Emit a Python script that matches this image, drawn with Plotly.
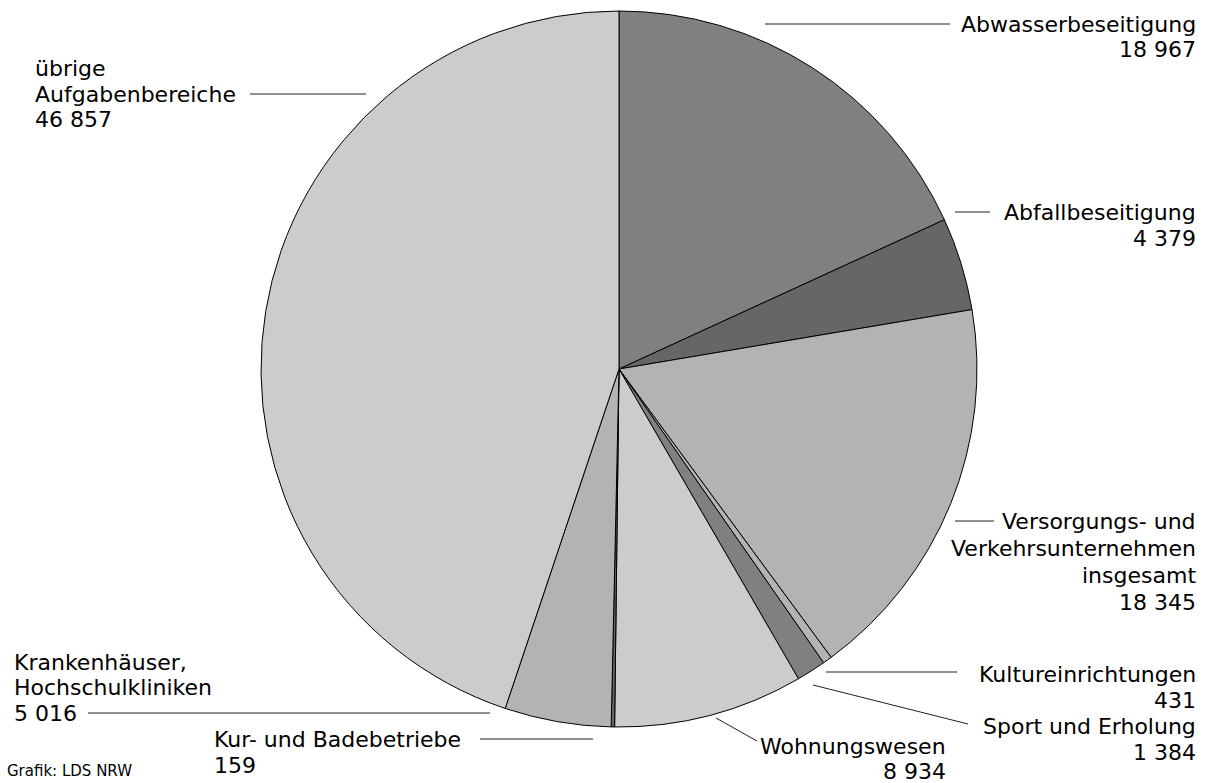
import plotly.graph_objects as go

W, H = 1211, 783

categories = [
    "Abwasserbeseitigung",
    "Abfallbeseitigung",
    "Versorgungs- und Verkehrsunternehmen insgesamt",
    "Kultureinrichtungen",
    "Sport und Erholung",
    "Wohnungswesen",
    "Kur- und Badebetriebe",
    "Krankenhäuser, Hochschulkliniken",
    "übrige Aufgabenbereiche",
]
values = [18967, 4379, 18345, 431, 1384, 8934, 159, 5016, 46857]
value_labels = ["18 967", "4 379", "18 345", "431", "1 384", "8 934", "159", "5 016", "46 857"]
colors = ["#808080", "#666666", "#b3b3b3", "#b3b3b3", "#808080",
          "#cccccc", "#666666", "#b3b3b3", "#cccccc"]

name_lines = [
    ["Abwasserbeseitigung"],
    ["Abfallbeseitigung"],
    ["Versorgungs- und", "Verkehrsunternehmen", "insgesamt"],
    ["Kultureinrichtungen"],
    ["Sport und Erholung"],
    ["Wohnungswesen"],
    ["Kur- und Badebetriebe"],
    ["Krankenhäuser,", "Hochschulkliniken"],
    ["übrige", "Aufgabenbereiche"],
]

# pie placement in pixels
cx, cy, r = 619, 369, 358

def px(x):
    return x / W

def py(y):
    return 1 - y / H

fig = go.Figure(go.Pie(
    labels=categories,
    values=values,
    sort=False,
    direction="clockwise",
    rotation=0,
    marker=dict(colors=colors, line=dict(color="#000000", width=1)),
    textinfo="none",
    hoverinfo="label+value",
    showlegend=False,
    domain=dict(x=[px(cx - r), px(cx + r)], y=[py(cy + r), py(cy - r)]),
))

FONT = "DejaVu Sans"
FS = 22

# label layout: x px, y px of first line centre, line spacing, anchor
label_pos = [
    (1198, 24, 26, "right"),
    (1198, 212, 26, "right"),
    (1198, 521, 27, "right"),
    (1198, 674, 26, "right"),
    (1198, 726, 26, "right"),
    (948, 746, 25, "right"),
    (212, 739, 26, "left"),
    (12, 662, 25.5, "left"),
    (33, 68, 26, "left"),
]

annotations = []
for i, (x, y0, dy, anchor) in enumerate(label_pos):
    lines = name_lines[i] + [value_labels[i]]
    for k, line in enumerate(lines):
        annotations.append(dict(
            text=line, x=px(x), y=py(y0 + k * dy), xref="paper", yref="paper",
            xanchor=anchor, yanchor="middle", align=anchor, showarrow=False,
            font=dict(family=FONT, size=FS, color="#000000"),
        ))
annotations.append(dict(
    text="Grafik: LDS NRW", x=px(5), y=py(771), xref="paper", yref="paper",
    xanchor="left", yanchor="middle", showarrow=False,
    font=dict(family=FONT, size=15, color="#000000"),
))

# leader lines (pixel coordinates)
leaders = [
    (765, 24, 950, 24),
    (955, 212, 990, 212),
    (955, 521, 994, 521),
    (826, 672, 957, 672),
    (813, 685, 968, 724),
    (716, 718, 757, 741),
    (480, 739, 593, 739),
    (88, 713, 490, 713),
    (250, 94, 366, 94),
]
shapes = []
for x0, y0, x1, y1 in leaders:
    shapes.append(dict(type="line", xref="paper", yref="paper",
                       x0=px(x0), y0=py(y0), x1=px(x1), y1=py(y1),
                       line=dict(color="#222222", width=1)))

fig.update_layout(
    width=W, height=H,
    margin=dict(l=0, r=0, t=0, b=0),
    paper_bgcolor="#ffffff",
    plot_bgcolor="#ffffff",
    annotations=annotations,
    shapes=shapes,
    font=dict(family=FONT),
)

fig.write_html(
    "out.html",
    config={"displayModeBar": False},
    post_script="document.body.style.margin='0';document.body.style.overflow='hidden';",
)
